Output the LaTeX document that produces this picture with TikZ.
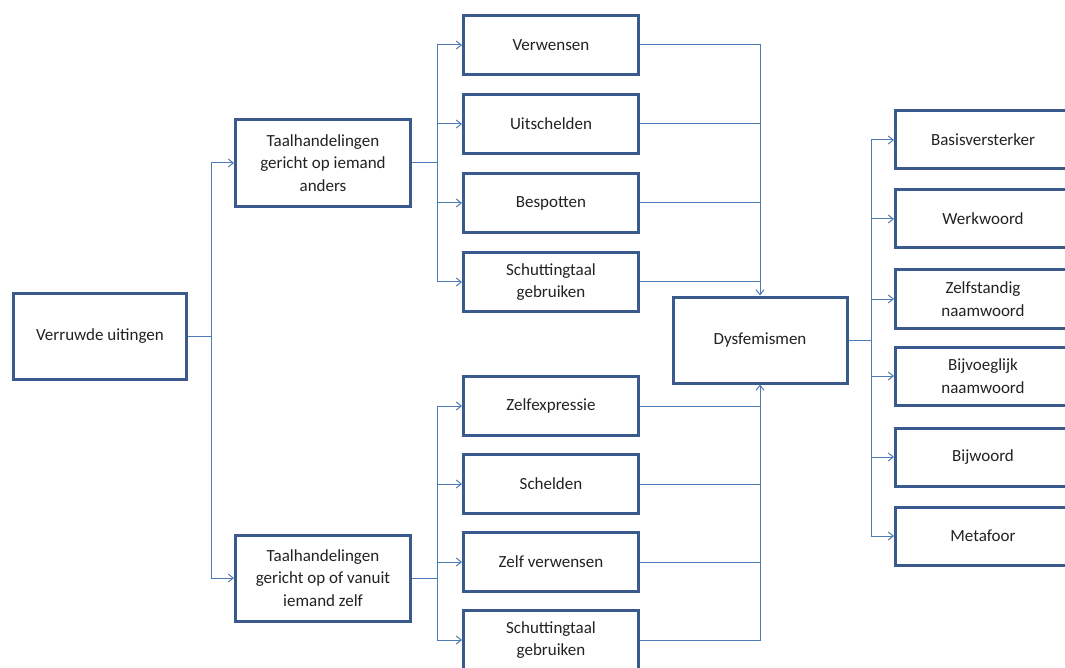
\documentclass[tikz,border=0pt]{standalone}
\usepackage{fontspec}
\setmainfont{Carlito}
\usetikzlibrary{arrows.meta}
\definecolor{boxcol}{RGB}{58,90,142}
\definecolor{linecol}{RGB}{78,122,182}
\definecolor{txtcol}{RGB}{34,34,34}
\begin{document}
\begin{tikzpicture}[x=1pt,y=-1pt,
  box/.style={draw=boxcol,line width=3pt,fill=white,rectangle,align=center,
    minimum width=175pt,minimum height=#1,inner sep=2pt,text=txtcol,
    font=\fontsize{17}{22.5}\selectfont},
  box/.default=59pt,
  conn/.style={draw=linecol,line width=1pt},
  arr/.style={conn,-{Straight Barb[length=5pt,width=8pt,line width=1pt]}}]
\useasboundingbox (0,0) rectangle (1065,668);
\clip (0,0) rectangle (1065,668);
% nodes
\node[box=86pt,minimum width=173pt] (v) at (100,336) {Verruwde uitingen};
\node[box=87pt] (t1) at (323,163) {Taalhandelingen\\gericht op iemand\\anders};
\node[box=86pt] (t2) at (323,578) {Taalhandelingen\\gericht op of vanuit\\iemand zelf};
\node[box] (a1) at (551,45) {Verwensen};
\node[box] (a2) at (551,124) {Uitschelden};
\node[box] (a3) at (551,203) {Bespotten};
\node[box] (a4) at (551,282) {Schuttingtaal\\gebruiken};
\node[box] (b1) at (551,406) {Zelfexpressie};
\node[box] (b2) at (551,484) {Schelden};
\node[box] (b3) at (551,562) {Zelf verwensen};
\node[box] (b4) at (551,640) {Schuttingtaal\\gebruiken};
\node[box=86pt,minimum width=174pt] (d) at (760,340) {Dysfemismen};
\node[box=58pt] (r1) at (983,140) {Basisversterker};
\node[box=58pt] (r2) at (983,219) {Werkwoord};
\node[box=58pt] (r3) at (983,299) {Zelfstandig\\naamwoord};
\node[box=58pt] (r4) at (983,376) {Bijvoeglijk\\naamwoord};
\node[box=58pt] (r5) at (983,457) {Bijwoord};
\node[box=58pt] (r6) at (983,536) {Metafoor};
% junctions
\coordinate (j1) at (211,336);
\coordinate (j2) at (437,163);
\coordinate (j3) at (437,578);
\coordinate (j4) at (871,340);
% connectors
\draw[arr] (v.east) -- (j1) |- (t1.west);
\draw[arr] (j1) |- (t2.west);
\draw[arr] (t1.east) -- (j2) |- (a1.west);
\foreach \n in {a2,a3,a4} \draw[arr] (j2) |- (\n.west);
\draw[arr] (t2.east) -- (j3) |- (b1.west);
\foreach \n in {b2,b3,b4} \draw[arr] (j3) |- (\n.west);
\draw[arr] (a1.east) -| (d.north);
\foreach \n in {a2,a3,a4} \draw[conn] (\n.east) -- (\n.east -| d.north);
\draw[arr] (b4.east) -| (d.south);
\foreach \n in {b1,b2,b3} \draw[conn] (\n.east) -- (\n.east -| d.south);
\draw[arr] (d.east) -- (j4) |- (r1.west);
\foreach \n in {r2,r3,r4,r5,r6} \draw[arr] (j4) |- (\n.west);
\end{tikzpicture}
\end{document}
